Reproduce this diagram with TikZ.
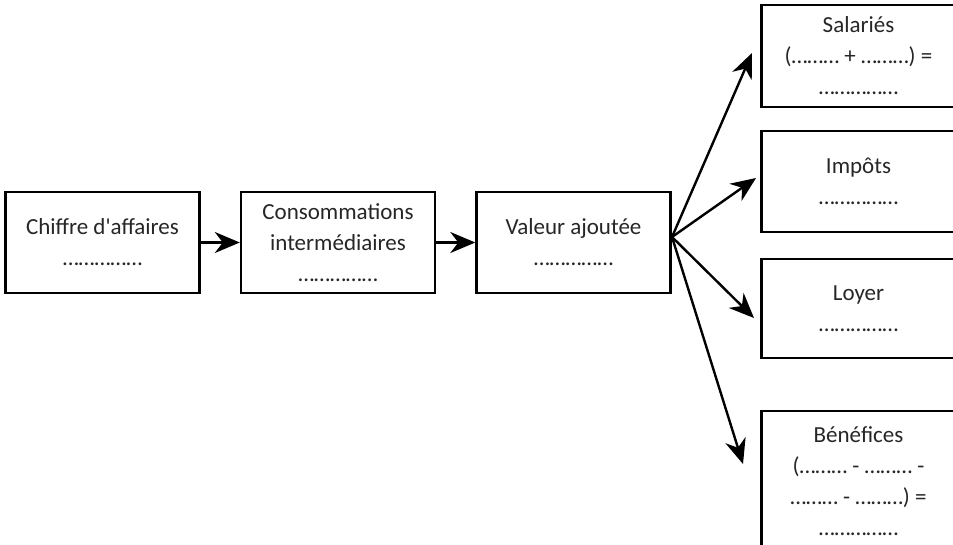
\documentclass[tikz,border=0pt]{standalone}
\usepackage{fontspec}
\setmainfont{Carlito}[Ligatures=TeXOff]
\usetikzlibrary{arrows.meta}
\begin{document}
\begin{tikzpicture}[x=1pt,y=-1pt,
  box/.style={draw, line width=2.4pt, minimum width=194pt, align=center, inner sep=0pt,
    font=\fontsize{23}{31}\selectfont, text=black!85},
  arr/.style={line width=2.4pt, -{Stealth[length=25pt,width=21pt,inset=8pt]}}]
\useasboundingbox (0,0) rectangle (953,544);
\clip (0,0) rectangle (953,544);
\node[box, minimum height=101pt] (ca) at (102.5,242.5) {Chiffre d'affaires\\……………};
\node[box, minimum height=101pt] (ci) at (338,242.5) {Consommations\\intermédiaires\\……………};
\node[box, minimum height=101pt] (va) at (573.5,242.5) {Valeur ajoutée\\……………};
\node[box, minimum height=102pt] (sa) at (858.5,56) {Salariés\\(……… + ………) =\\……………};
\node[box, minimum height=101pt] (im) at (858.5,181.5) {Impôts\\……………};
\node[box, minimum height=99pt] (lo) at (858.5,308.5) {Loyer\\……………};
\node[box, minimum height=140pt] (be) at (858.5,481) {Bénéfices\\(……… - ……… -\\……… - ………) =\\……………};
\coordinate (fan) at (672,237);
\coordinate (tsa) at (752,53);
\coordinate (tim) at (756,178);
\coordinate (tlo) at (754,318);
\coordinate (tbe) at (743,464);
\draw[arr] (ca.east) -- (ci.west);
\draw[arr] (ci.east) -- (va.west);
\draw[arr] (fan) -- (tsa);
\draw[arr] (fan) -- (tim);
\draw[arr] (fan) -- (tlo);
\draw[arr] (fan) -- (tbe);
\end{tikzpicture}
\end{document}
